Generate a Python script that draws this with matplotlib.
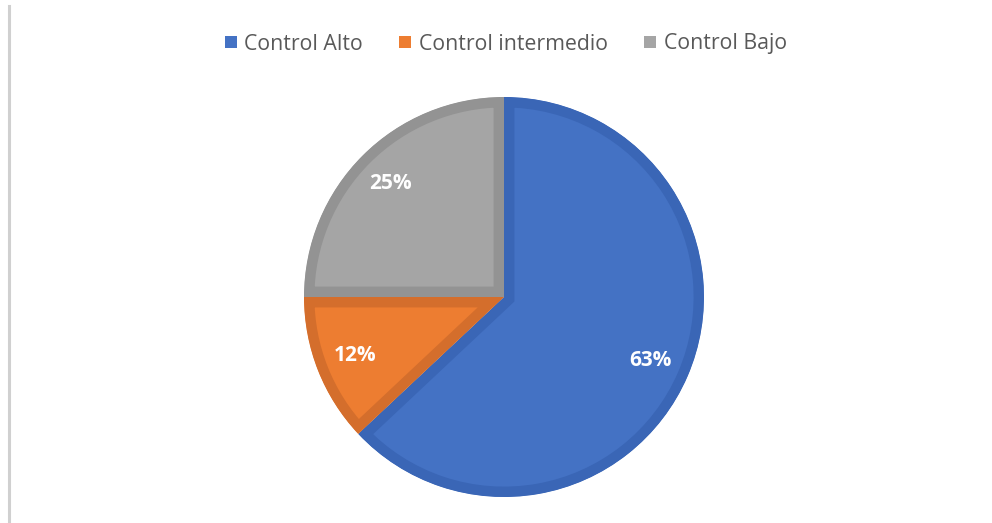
import matplotlib.pyplot as plt
from matplotlib.lines import Line2D
from matplotlib.patches import Patch, Wedge

# datos
categorias = ['Control Alto', 'Control intermedio', 'Control Bajo']
porcentajes = [63, 12, 25]
colores = ['#4472C4', '#ED7D31', '#A5A5A5']
bordes = ['#3A66B6', '#D46E2C', '#939393']

plt.rcParams['font.family'] = ['Open Sans', 'DejaVu Sans']

fig = plt.figure(figsize=(9.92, 5.23), dpi=100)
fig.patch.set_facecolor('white')

# linea gris a la izquierda
fig.add_artist(Line2D([9 / 992, 9 / 992], [0, 1 - 6 / 523], color='#D0D0D0', lw=2.2))

ax = fig.add_axes([304 / 992, 26 / 523, 400 / 992, 400 / 523])
wedges, texts, autotexts = ax.pie(
    porcentajes, colors=colores, startangle=90, counterclock=False,
    autopct='%1.0f%%', pctdistance=0.8,
    textprops=dict(color='white', fontsize=15, fontweight='bold'))
for w, b in zip(wedges, bordes):
    w.set_edgecolor(b)
    w.set_linewidth(15)
    clip = Wedge(w.center, w.r, w.theta1, w.theta2, transform=ax.transData)
    w.set_clip_on(True)
    w.set_clip_path(clip)
ax.set_xlim(-1, 1)
ax.set_ylim(-1, 1)
ax.set_aspect('equal')

handles = [Patch(facecolor=c, edgecolor='none') for c in colores]
fig.legend(handles, categorias, loc='center', bbox_to_anchor=(0.51, 1 - 44 / 523),
           ncol=3, frameon=False, fontsize=15.3, labelcolor='#595959',
           handlelength=0.56, handleheight=0.56, handletextpad=0.37, columnspacing=1.7)

fig.savefig('out.png', dpi=100)
